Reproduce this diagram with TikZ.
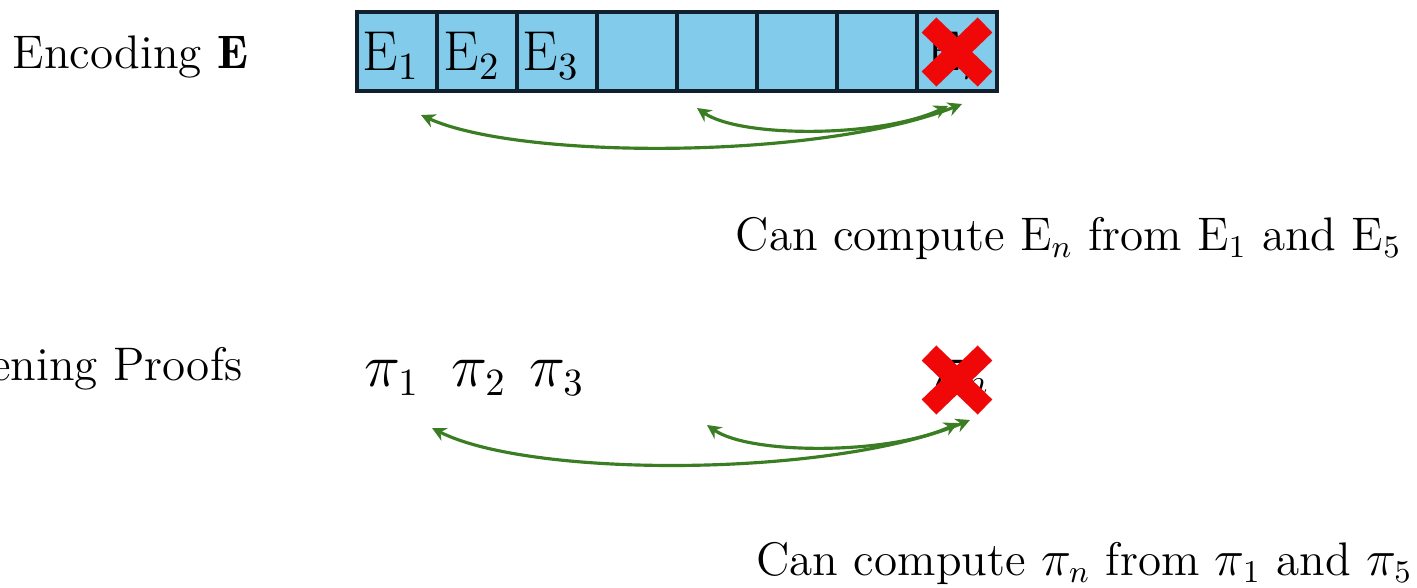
\documentclass[tikz,border=0pt]{standalone}
\usepackage{fontspec}
\usetikzlibrary{arrows.meta}
\definecolor{cellblue}{RGB}{131,203,235}
\definecolor{cellline}{RGB}{18,32,46}
\definecolor{xred}{RGB}{240,8,8}
\definecolor{arrgreen}{RGB}{58,125,34}
\tikzset{
  cellbox/.style={draw=cellline, line width=1.1pt, fill=cellblue, minimum width=0.8cm, minimum height=0.79cm, inner sep=0pt},
  lbl/.style={inner sep=0pt, font=\fontsize{13.4}{16}\selectfont},
  sym/.style={inner sep=0pt, font=\fontsize{16}{19}\selectfont},
  xmark/.style={draw=xred, line width=0.21cm},
  link/.style={draw=arrgreen, line width=0.9pt, {Stealth[length=4pt,width=4pt]}-{Stealth[length=4pt,width=4pt]}}
}
\begin{document}
\begin{tikzpicture}[x=0.01cm, y=-0.01cm]
\useasboundingbox (0,0) rectangle (1417,587);
\clip (0,0) rectangle (1417,587);
% top row
\node[lbl, anchor=base west] (enc) at (12,68) {Encoding $\mathbf{E}$};
\foreach \i in {1,...,8} {
  \node[cellbox] (c\i) at ({397+80*(\i-1)},51.5) {};
}
\node[sym, anchor=base] (e1) at (391,70) {$\mathrm{E}_1$};
\node[sym, anchor=base] (e2) at (472,70) {$\mathrm{E}_2$};
\node[sym, anchor=base] (e3) at (551,70) {$\mathrm{E}_3$};
\node[sym, anchor=base] (en) at (957,70) {$\mathrm{E}_n$};
\draw[xmark] (929,25) -- (985,79);
\draw[xmark] (985,25) -- (929,79);
\coordinate (a1) at (421,115);
\coordinate (a5) at (697,108);
\coordinate (an1) at (962,104);
\coordinate (an2) at (948,106);
\path[link] (a1) .. controls (520,160) and (820,160) .. (an1);
\path[link] (a5) .. controls (740,138) and (880,138) .. (an2);
\node[lbl, anchor=base east] (t1) at (1402,250) {Can compute $\mathrm{E}_n$ from $\mathrm{E}_1$ and $\mathrm{E}_5$};
% bottom row
\node[lbl, anchor=base east] (op) at (243,380) {Opening Proofs};
\node[sym, anchor=base west] (p1) at (364,386) {$\pi_1$};
\node[sym, anchor=base west] (p2) at (451,386) {$\pi_2$};
\node[sym, anchor=base west] (p3) at (529,386) {$\pi_3$};
\node[sym, anchor=base west] (pn) at (930,386) {$\pi_n$};
\draw[xmark] (929,353) -- (985,407);
\draw[xmark] (985,353) -- (929,407);
\coordinate (b1) at (432,428);
\coordinate (b5) at (707,425);
\coordinate (bn1) at (970,420);
\coordinate (bn2) at (958,423);
\path[link] (b1) .. controls (530,478) and (830,478) .. (bn1);
\path[link] (b5) .. controls (750,455) and (890,455) .. (bn2);
\node[lbl, anchor=base east] (t2) at (1413,575) {Can compute $\pi_n$ from $\pi_1$ and $\pi_5$};
\end{tikzpicture}
\end{document}
